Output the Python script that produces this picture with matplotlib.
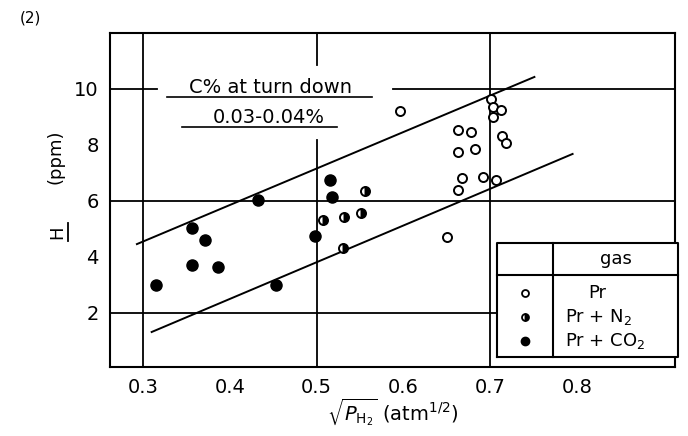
import matplotlib.pyplot as plt
from matplotlib.lines import Line2D

# data
pr_x = [0.701, 0.703, 0.713, 0.703, 0.663, 0.678, 0.714, 0.718, 0.663, 0.682,
        0.668, 0.692, 0.707, 0.663, 0.650, 0.596]
pr_y = [9.64, 9.36, 9.25, 9.00, 8.54, 8.46, 8.32, 8.07, 7.75, 7.86,
        6.82, 6.86, 6.75, 6.39, 4.71, 9.21]

n2_x = [0.556, 0.507, 0.532, 0.551, 0.531]
n2_y = [6.36, 5.32, 5.43, 5.57, 4.32]

co2_x = [0.315, 0.356, 0.372, 0.356, 0.386, 0.433, 0.453, 0.498, 0.516, 0.518]
co2_y = [3.00, 5.04, 4.60, 3.70, 3.65, 6.04, 3.00, 4.75, 6.75, 6.14]

# bounding lines
upper_x = [0.293, 0.751]
upper_y = [4.46, 10.43]
lower_x = [0.310, 0.795]
lower_y = [1.32, 7.68]

xticks = [0.3, 0.4, 0.5, 0.6, 0.7, 0.8]
xtick_labels = ['0.3', '0.4', '0.5', '0.6', '0.7', '0.8']
yticks = [2, 4, 6, 8, 10]
ytick_labels = ['2', '4', '6', '8', '10']

W, H = 688, 436
fig = plt.figure(figsize=(W / 100, H / 100), dpi=100)
ax = fig.add_axes([110 / W, 1 - 367 / H, 565 / W, 334 / H])
ax.set_xlim(0.262, 0.913)
ax.set_ylim(0.07, 12.0)

for s in ax.spines.values():
    s.set_linewidth(1.5)

ax.set_xticks(xticks)
ax.set_xticklabels(xtick_labels, fontsize=14)
ax.set_yticks(yticks)
ax.set_yticklabels(ytick_labels, fontsize=14)
ax.tick_params(which='major', length=0, pad=8)
ax.set_xticks([0.4, 0.6], minor=True)
ax.set_yticks([4, 8], minor=True)
ax.tick_params(which='minor', direction='in', length=6, width=1.3,
               top=True, right=True)

# grid lines (broken where the annotation sits)
gkw = dict(color='black', lw=1.3, zorder=1)
ax.axhline(2, **gkw)
ax.axhline(6, **gkw)
ax.plot([0.262, 0.316], [10, 10], **gkw)
ax.plot([0.588, 0.913], [10, 10], **gkw)
ax.axvline(0.3, **gkw)
ax.axvline(0.7, **gkw)
ax.plot([0.5, 0.5], [12, 10.86], **gkw)
ax.plot([0.5, 0.5], [8.18, 0.07], **gkw)

ax.plot(upper_x, upper_y, color='black', lw=1.4, zorder=2)
ax.plot(lower_x, lower_y, color='black', lw=1.4, zorder=2)

ax.plot(pr_x, pr_y, 'o', ms=6.5, mfc='white', mec='black', mew=1.4, zorder=3)
ax.plot(n2_x, n2_y, 'o', ms=6.5, mfc='black', mfcalt='white', fillstyle='right',
        mec='black', mew=1.4, zorder=3)
ax.plot(co2_x, co2_y, 'o', ms=8, mfc='black', mec='black', zorder=3)

# annotation
ax.text(0.447, 9.86, 'C% at turn down', fontsize=14, ha='center', va='baseline')
ax.plot([0.328, 0.564], [9.71, 9.71], color='black', lw=1.2)
ax.text(0.445, 8.8, '0.03-0.04%', fontsize=14, ha='center', va='baseline')
ax.plot([0.345, 0.524], [8.63, 8.63], color='black', lw=1.2)

# legend drawn as a small table
tkw = dict(transform=ax.transAxes, color='black', lw=1.5, clip_on=False)
bx0, bx1, by0, by1 = 0.685, 1.005, 0.030, 0.371
ax.add_patch(plt.Rectangle((bx0, by0), bx1 - bx0, by1 - by0, transform=ax.transAxes,
                           fc='white', ec='none', zorder=4, clip_on=False))
for xs, ys in [([bx0, bx1, bx1, bx0, bx0], [by0, by0, by1, by1, by0]),
               ([0.784, 0.784], [by0, by1]),
               ([bx0, bx1], [0.275, 0.275])]:
    ax.add_line(Line2D(xs, ys, zorder=5, **tkw))
ax.text(0.896, 0.323, 'gas', fontsize=13, ha='center', va='center',
        transform=ax.transAxes, zorder=6)
ax.text(0.862, 0.222, 'Pr', fontsize=13, ha='center', va='center',
        transform=ax.transAxes, zorder=6)
ax.text(0.805, 0.150, 'Pr + N$_2$', fontsize=13, ha='left', va='center',
        transform=ax.transAxes, zorder=6)
ax.text(0.805, 0.078, 'Pr + CO$_2$', fontsize=13, ha='left', va='center',
        transform=ax.transAxes, zorder=6)
ax.plot([0.735], [0.222], 'o', ms=5, mfc='white', mec='black', mew=1.3,
        transform=ax.transAxes, clip_on=False, zorder=6)
ax.plot([0.735], [0.150], 'o', ms=5, mfc='black', mfcalt='white', fillstyle='right',
        mec='black', mew=1.3, transform=ax.transAxes, clip_on=False, zorder=6)
ax.plot([0.735], [0.078], 'o', ms=6, mfc='black', mec='black',
        transform=ax.transAxes, clip_on=False, zorder=6)

# axis labels
fig.text(20 / W, 1 - 18 / H, '(2)', fontsize=11, ha='left', va='center')
fig.text(55 / W, 1 - 157 / H, '(ppm)', fontsize=13, rotation=90,
         ha='center', va='center')
fig.text(57 / W, 1 - 232 / H, 'H', fontsize=13, rotation=90,
         ha='center', va='center')
fig.add_artist(Line2D([68 / W, 68 / W], [1 - 223 / H, 1 - 241 / H],
                      color='black', lw=1.3))
fig.text(393 / W, 1 - 412 / H, r'$\sqrt{P_{\mathrm{H_2}}}\ (\mathrm{atm}^{1/2})$',
         fontsize=14, ha='center', va='center')

fig.savefig('out.png', dpi=100)
